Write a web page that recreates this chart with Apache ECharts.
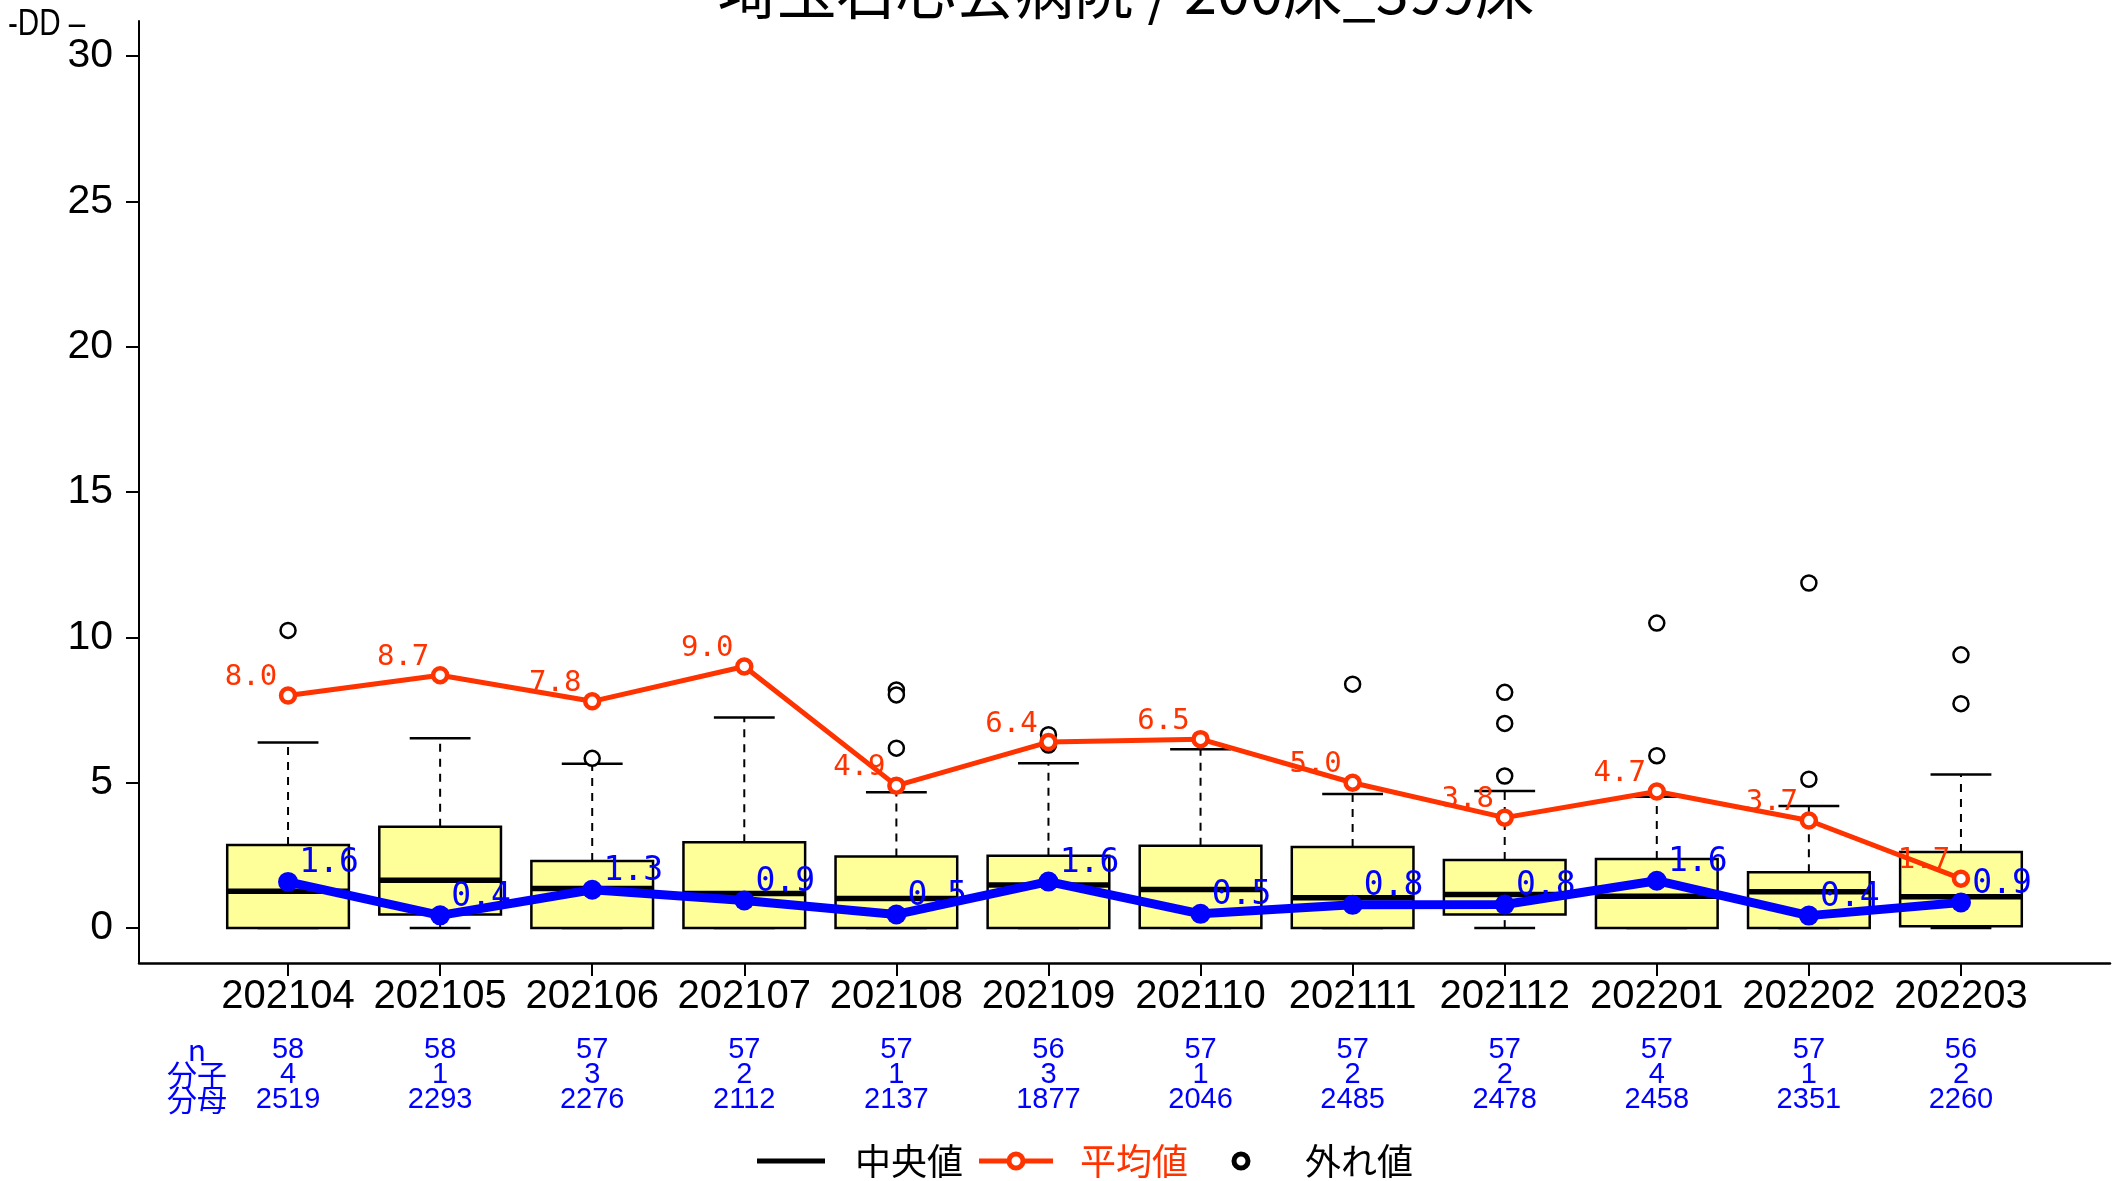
<!DOCTYPE html>
<html>
<head>
<meta charset="utf-8">
<script src="https://cdn.jsdelivr.net/npm/echarts@6/dist/echarts.min.js"></script>
<style>
html,body{margin:0;padding:0;background:#fff;}
#chart{width:2118px;height:1181px;}
</style>
</head>
<body>
<div id="chart"></div>
<script>
// ---- data ----
const categories = ['202104','202105','202106','202107','202108','202109','202110','202111','202112','202201','202202','202203'];
const nValues = [58,58,57,57,57,56,57,57,57,57,57,56];
const numerators = [4,1,3,2,1,3,1,2,2,4,1,2];
const denominators = [2519,2293,2276,2112,2137,1877,2046,2485,2478,2458,2351,2260];
const whiskerLow = [0,0,0,0,0,0,0,0,0,0,0,0];
const q1Values = [0,0.47,0,0,0,0,0,0,0.47,0,0,0.06];
const medianValues = [1.27,1.65,1.36,1.19,1.02,1.48,1.33,1.04,1.16,1.10,1.25,1.08];
const q3Values = [2.86,3.49,2.31,2.95,2.46,2.49,2.83,2.79,2.34,2.38,1.92,2.62];
const whiskerHigh = [6.38,6.53,5.65,7.24,4.67,5.67,6.15,4.61,4.72,4.52,4.20,5.28];
const outlierValues = [[10.24],[],[5.84],[],[8.19,8.02,6.19],[6.65,6.30],[],[8.39],[8.11,7.04,5.23],[10.49,5.93],[11.87,5.12],[9.40,7.72]];
const meanValues = [8.0,8.7,7.8,9.0,4.9,6.4,6.5,5.0,3.8,4.7,3.7,1.7];
const hospitalValues = [1.59,0.44,1.32,0.95,0.47,1.60,0.49,0.80,0.81,1.63,0.43,0.88];
const yTicks = [0,5,10,15,20,25,30];
const titleText = '埼玉石心会病院 / 200床_399床';
const yLabelText = '-DD –';
const rowHeaders = ['n','分子','分母'];
const legendNames = ['中央値','平均値','外れ値'];

// ---- build ----
const xPos = categories.map((c,i)=>i+1);
const boxData = categories.map((c,i)=>[i+1, whiskerLow[i], q1Values[i], medianValues[i], q3Values[i], whiskerHigh[i]]);
const outlierData = [];
outlierValues.forEach((arr,i)=>arr.forEach(v=>outlierData.push([i+1, v])));
const meanData = meanValues.map((v,i)=>[i+1, v]);
const hospData = hospitalValues.map((v,i)=>[i+1, v]);

const SANS = "'Liberation Sans','Arial',sans-serif";
const CJK = "'Noto Sans CJK JP','Noto Sans',sans-serif";
const MONO = "'DejaVu Sans Mono','Liberation Mono',monospace";
const RED = '#FF3300';
const BLUE = '#0000FF';

// legend icon shapes (74 x 20 box)
const ICON_MEDIAN = 'path://M0,0 M74,20 M3,7.5 L71,7.5 L71,12.5 L3,12.5 Z';
const RING = 'M27.5,10 A9.5,9.5 0 1,1 46.5,10 A9.5,9.5 0 1,1 27.5,10 Z M32.5,10 A4.5,4.5 0 1,0 41.5,10 A4.5,4.5 0 1,0 32.5,10 Z';
const ICON_MEAN = 'path://M0,0 M74,20 M0,7.5 L28,7.5 L28,12.5 L0,12.5 Z M46,7.5 L74,7.5 L74,12.5 L46,12.5 Z ' + RING;
const ICON_OUT = 'path://M0,0 M74,20 ' + RING;

const chart = echarts.init(document.getElementById('chart'), null, {renderer:'canvas'});

function renderBox(params, api){
  const x = api.value(0);
  const lo = api.coord([x, api.value(1)]);
  const q1 = api.coord([x, api.value(2)]);
  const md = api.coord([x, api.value(3)]);
  const q3 = api.coord([x, api.value(4)]);
  const hi = api.coord([x, api.value(5)]);
  const bw = api.size([0.8, 0])[0];
  const sw = api.size([0.4, 0])[0];
  const cx = lo[0];
  const dash = {stroke:'#000', lineWidth:2, lineDash:[8,7]};
  const solid = {stroke:'#000', lineWidth:2.5};
  return {
    type:'group',
    children:[
      {type:'line', shape:{x1:cx,y1:q3[1],x2:cx,y2:hi[1]}, style:dash},
      {type:'line', shape:{x1:cx,y1:lo[1],x2:cx,y2:q1[1]}, style:dash},
      {type:'line', shape:{x1:cx-sw/2,y1:hi[1],x2:cx+sw/2,y2:hi[1]}, style:solid},
      {type:'line', shape:{x1:cx-sw/2,y1:lo[1],x2:cx+sw/2,y2:lo[1]}, style:solid},
      {type:'rect', shape:{x:cx-bw/2,y:q3[1],width:bw,height:q1[1]-q3[1]}, style:{fill:'#FFFF99', stroke:'#000', lineWidth:2.5}},
      {type:'line', shape:{x1:cx-bw/2,y1:md[1],x2:cx+bw/2,y2:md[1]}, style:{stroke:'#000', lineWidth:5.5}}
    ]
  };
}

const option = {
  animation:false,
  backgroundColor:'#fff',
  title:{
    text:titleText, left:1121, top:-43, textAlign:'center',
    textStyle:{fontFamily:CJK, fontSize:59.5, fontWeight:'normal', color:'#000'}
  },
  grid:{left:139, right:8, top:21, bottom:218, containLabel:false},
  legend:{
    left:749, top:1138, itemWidth:74, itemHeight:20, itemGap:16,
    textStyle:{fontFamily:CJK, fontSize:36, color:'#000', padding:[0,0,0,22]},
    data:[
      {name:legendNames[0], icon:ICON_MEDIAN, itemStyle:{color:'#000', borderWidth:0}, textStyle:{color:'#000'}},
      {name:legendNames[1], icon:ICON_MEAN, itemStyle:{color:RED, borderWidth:0}, textStyle:{color:RED}},
      {name:legendNames[2], icon:ICON_OUT, itemStyle:{color:'#000', borderWidth:0}, textStyle:{color:'#000', padding:[0,0,0,22]}}
    ]
  },
  xAxis:[{
    type:'value', min:0.02, max:12.98, gridIndex:0, position:'bottom',
    axisLine:{show:true, onZero:false, lineStyle:{color:'#000', width:2.5}},
    axisTick:{show:true, customValues:xPos, length:13, lineStyle:{color:'#000', width:2}},
    axisLabel:{customValues:xPos, formatter:v=>categories[Math.round(v)-1], fontFamily:SANS, fontSize:40, lineHeight:42, color:'#000', margin:13},
    splitLine:{show:false}
  },{
    type:'value', min:0.02, max:12.98, gridIndex:0, position:'bottom', offset:66,
    axisLine:{show:false}, axisTick:{show:false}, splitLine:{show:false},
    axisLabel:{customValues:xPos, formatter:v=>{const i=Math.round(v)-1; return nValues[i]+'\n'+numerators[i]+'\n'+denominators[i];},
      fontFamily:SANS, fontSize:29, lineHeight:25, color:BLUE, margin:8}
  }],
  yAxis:{
    type:'value', min:-1.2, max:31.2,
    axisLine:{show:true, onZero:false, lineStyle:{color:'#000', width:2}},
    axisTick:{show:true, customValues:yTicks, length:13, lineStyle:{color:'#000', width:2}},
    axisLabel:{customValues:yTicks, fontFamily:SANS, fontSize:41, color:'#000', margin:26},
    splitLine:{show:false}
  },
  graphic:[
    {type:'text', left:8, top:6, scaleX:0.8, style:{text:yLabelText, fontFamily:SANS, fontSize:37, fill:'#000'}},
    {type:'text', x:197, y:1037, style:{text:rowHeaders.join('\n'), fontFamily:CJK, fontSize:30, lineHeight:25, fill:BLUE, align:'center', verticalAlign:'top'}}
  ],
  series:[
    {name:'box', type:'custom', renderItem:renderBox, data:boxData, encode:{x:0, y:[1,2,3,4,5]}, z:2},
    {name:legendNames[0], type:'line', data:[], symbol:'none', lineStyle:{color:'#000', width:6}, itemStyle:{color:'#000'}},
    {name:legendNames[2], type:'scatter', data:outlierData, symbol:'circle', symbolSize:15,
      itemStyle:{color:'#fff', borderColor:'#000', borderWidth:2.5, opacity:1}, z:3},
    {name:legendNames[1], type:'line', data:meanData, symbol:'circle', symbolSize:14,
      lineStyle:{color:RED, width:5}, itemStyle:{color:'#fff', borderColor:RED, borderWidth:4.5},
      label:{show:true, position:'inside', offset:[-37,-18], formatter:p=>p.value[1].toFixed(1), color:RED, fontFamily:MONO, fontSize:29}, z:4},
    {name:'当院', type:'line', data:hospData, symbol:'circle', symbolSize:20,
      lineStyle:{color:BLUE, width:9}, itemStyle:{color:BLUE},
      label:{show:true, position:'inside', offset:[41,-18], formatter:p=>p.value[1].toFixed(1), color:BLUE, fontFamily:MONO, fontSize:33}, z:5}
  ]
};
chart.setOption(option);
</script>
</body>
</html>
